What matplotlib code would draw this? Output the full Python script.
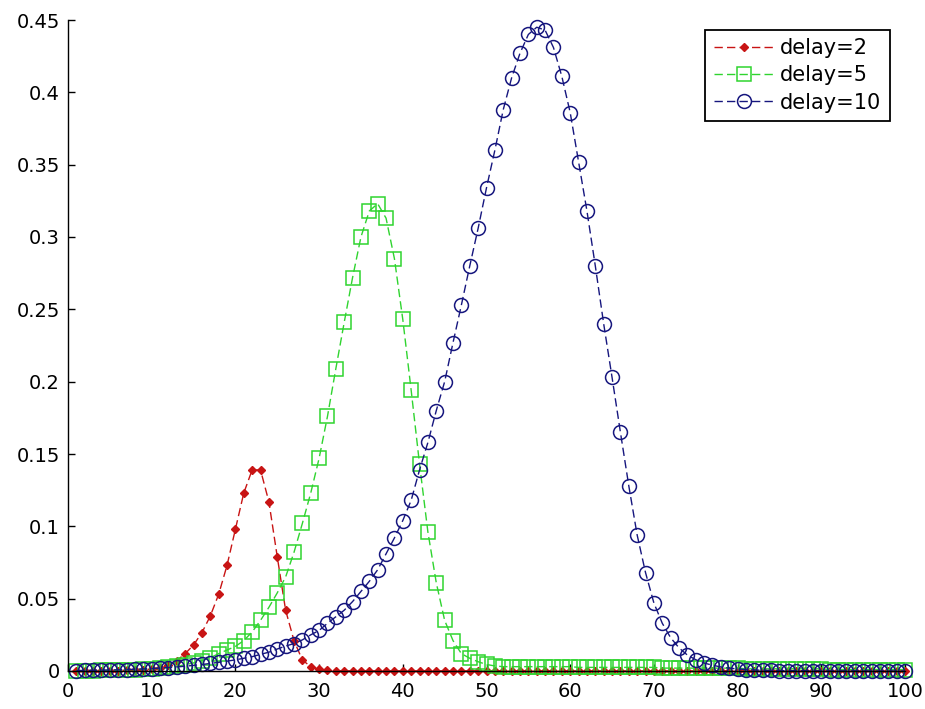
import matplotlib
matplotlib.use("Agg")
import matplotlib.pyplot as plt
import numpy as np

# time steps 1..100
steps = list(range(1, 101))

delay2 = [0.0001, 0.0001, 0.0001, 0.0002, 0.0002, 0.0003, 0.0004, 0.0006, 0.0009, 0.0014,
          0.0024, 0.004, 0.0072, 0.012, 0.018, 0.0265, 0.038, 0.053, 0.073, 0.098,
          0.123, 0.139, 0.139, 0.117, 0.079, 0.042, 0.021, 0.0076, 0.003, 0.0012,
          0.0005, 0.0002, 0.0001, 0.0001, 0.0001, 0.0001, 0.0001, 0.0001, 0.0001, 0.0001,
          0.0001, 0.0001, 0.0001, 0.0001, 0.0001, 0.0001, 0.0001, 0.0001, 0.0001, 0.0001,
          0.0, 0.0, 0.0, 0.0, 0.0, 0.0, 0.0, 0.0, 0.0, 0.0,
          0.0, 0.0, 0.0, 0.0, 0.0, 0.0, 0.0, 0.0, 0.0, 0.0,
          0.0, 0.0, 0.0, 0.0, 0.0, 0.0, 0.0, 0.0, 0.0, 0.0,
          0.0, 0.0, 0.0, 0.0, 0.0, 0.0, 0.0, 0.0, 0.0, 0.0,
          0.0, 0.0, 0.0, 0.0, 0.0, 0.0, 0.0, 0.0, 0.0, 0.0]

delay5 = [0.0002, 0.0003, 0.0003, 0.0004, 0.0005, 0.0006, 0.0008, 0.001, 0.0012, 0.0015,
          0.0019, 0.0025, 0.0033, 0.0043, 0.0056, 0.0072, 0.0092, 0.012, 0.0145, 0.017,
          0.021, 0.027, 0.035, 0.044, 0.054, 0.065, 0.082, 0.102, 0.123, 0.147,
          0.176, 0.209, 0.241, 0.272, 0.300, 0.318, 0.323, 0.313, 0.285, 0.243,
          0.194, 0.143, 0.096, 0.061, 0.035, 0.021, 0.012, 0.0088, 0.0064, 0.0045,
          0.0035, 0.003, 0.003, 0.003, 0.003, 0.003, 0.003, 0.003, 0.003, 0.003,
          0.0025, 0.0025, 0.0025, 0.0025, 0.0025, 0.0025, 0.0025, 0.0025, 0.0025, 0.0025,
          0.002, 0.002, 0.002, 0.002, 0.002, 0.002, 0.002, 0.002, 0.002, 0.002,
          0.0015, 0.0015, 0.0015, 0.0015, 0.0015, 0.0015, 0.0015, 0.0015, 0.0015, 0.0015,
          0.001, 0.001, 0.001, 0.001, 0.001, 0.001, 0.001, 0.001, 0.001, 0.001]

delay10 = [0.0003, 0.0004, 0.0005, 0.0006, 0.0007, 0.0008, 0.001, 0.0012, 0.0014, 0.0017,
           0.002, 0.0024, 0.0028, 0.0033, 0.0039, 0.0045, 0.0052, 0.006, 0.0068, 0.0077,
           0.0088, 0.0099, 0.0115, 0.013, 0.0152, 0.0172, 0.019, 0.0215, 0.025, 0.028,
           0.033, 0.0375, 0.042, 0.048, 0.055, 0.062, 0.07, 0.081, 0.092, 0.104,
           0.118, 0.139, 0.158, 0.18, 0.20, 0.227, 0.253, 0.28, 0.306, 0.334,
           0.36, 0.388, 0.41, 0.427, 0.44, 0.445, 0.443, 0.431, 0.411, 0.386,
           0.352, 0.318, 0.28, 0.24, 0.203, 0.165, 0.128, 0.094, 0.068, 0.047,
           0.033, 0.023, 0.016, 0.011, 0.0078, 0.0055, 0.004, 0.0028, 0.002, 0.0014,
           0.001, 0.0007, 0.0005, 0.0004, 0.0003, 0.0002, 0.0002, 0.0002, 0.0001, 0.0001,
           0.0001, 0.0001, 0.0001, 0.0001, 0.0001, 0.0, 0.0, 0.0, 0.0, 0.0]

x_ticks = [0, 10, 20, 30, 40, 50, 60, 70, 80, 90, 100]
y_ticks = [0, 0.05, 0.1, 0.15, 0.2, 0.25, 0.3, 0.35, 0.4, 0.45]
y_tick_labels = ["0", "0.05", "0.1", "0.15", "0.2", "0.25", "0.3", "0.35", "0.4", "0.45"]

plt.rcParams['font.family'] = ['DejaVu Sans']

fig = plt.figure(figsize=(9.25, 7.09), dpi=100)
fig.patch.set_facecolor("white")
ax = fig.add_axes([68 / 925, 1 - 671 / 709, 837 / 925, 651 / 709])

dash = (6, 3)
ax.plot(steps, delay2, linestyle="--", dashes=dash, color="#c81414", lw=1.0,
        marker="D", markersize=4.5, markerfacecolor="#c81414", markeredgecolor="#c81414",
        label="delay=2", clip_on=False)
ax.plot(steps, delay5, linestyle="--", dashes=dash, color="#2fd42f", lw=1.0,
        marker="s", markersize=10, markerfacecolor="none", markeredgecolor="#2fd42f",
        markeredgewidth=1.1, label="delay=5", clip_on=False)
ax.plot(steps, delay10, linestyle="--", dashes=dash, color="#16167e", lw=1.0,
        marker="o", markersize=10, markerfacecolor="none", markeredgecolor="#16167e",
        markeredgewidth=1.1, label="delay=10", clip_on=False)

ax.set_xlim(0, 100)
ax.set_ylim(0, 0.45)
ax.set_xticks(x_ticks)
ax.set_yticks(y_ticks)
ax.set_yticklabels(y_tick_labels)

# matlab style: box off, ticks inside
ax.spines["top"].set_visible(False)
ax.spines["right"].set_visible(False)
for s in ["left", "bottom"]:
    ax.spines[s].set_linewidth(1.0)
    ax.spines[s].set_color("black")
ax.tick_params(direction="in", length=5, width=1, labelsize=14)
ax.tick_params(axis="x", pad=8)
ax.tick_params(axis="y", pad=6)

leg = ax.legend(loc="upper right", bbox_to_anchor=(0.982, 0.985), borderaxespad=0,
                fontsize=15, handlelength=2.9, handletextpad=0.3, labelspacing=0.35,
                borderpad=0.4, fancybox=False, framealpha=1, edgecolor="black",
                numpoints=1)
leg.get_frame().set_linewidth(1.3)

fig.savefig("out.png", dpi=100, facecolor="white")
